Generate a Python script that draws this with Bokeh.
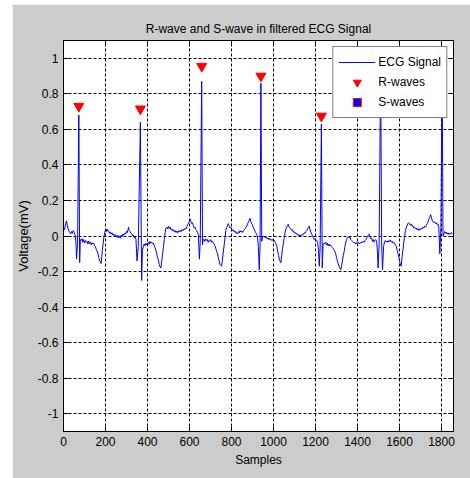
import numpy as np
from bokeh.plotting import figure
from bokeh.models import Range1d, FixedTicker, LinearAxis, Legend
from bokeh.embed import file_html
from bokeh.resources import INLINE

# ---------------- data ----------------
ecg_samples = [
    0, 5, 10, 14, 18, 22, 26, 30, 34, 38, 42, 46,
    50, 54, 57, 60, 62, 67, 73, 77, 80, 84, 88, 92,
    96, 100, 104, 108, 112, 116, 120, 124, 128, 132, 136, 140,
    144, 148, 152, 156, 160, 164, 168, 172, 176, 179, 182, 185,
    188, 192, 196, 199, 203, 207, 211, 215, 219, 223, 227, 231,
    235, 239, 243, 247, 251, 255, 259, 263, 267, 271, 275, 279,
    283, 287, 291, 295, 299, 303, 307, 310, 313, 317, 321, 325,
    329, 333, 337, 341, 345, 350, 356, 366, 372, 376, 380, 384,
    388, 392, 396, 400, 404, 408, 412, 416, 420, 424, 428, 432,
    436, 440, 444, 448, 452, 456, 460, 464, 468, 472, 476, 480,
    484, 488, 492, 496, 500, 504, 508, 512, 516, 520, 524, 528,
    532, 536, 540, 544, 548, 552, 556, 560, 564, 568, 572, 576,
    580, 584, 588, 592, 596, 600, 604, 607, 610, 614, 618, 622,
    626, 630, 634, 638, 642, 647, 651, 658, 662, 665, 669, 673,
    677, 681, 685, 689, 693, 697, 701, 705, 709, 713, 717, 721,
    725, 729, 733, 737, 741, 745, 749, 753, 757, 761, 765, 769,
    773, 777, 781, 785, 789, 793, 797, 801, 805, 809, 813, 817,
    821, 825, 829, 833, 837, 841, 845, 849, 853, 857, 861, 865,
    869, 873, 877, 881, 885, 888, 891, 895, 899, 903, 907, 911,
    915, 919, 923, 928, 932, 936, 940, 944, 948, 952, 956, 960,
    964, 968, 972, 976, 980, 984, 988, 992, 996, 1000, 1004, 1008,
    1012, 1016, 1020, 1024, 1028, 1032, 1035, 1039, 1043, 1047, 1051, 1055,
    1059, 1063, 1067, 1070, 1074, 1078, 1082, 1086, 1090, 1094, 1098, 1102,
    1106, 1110, 1114, 1118, 1122, 1126, 1130, 1134, 1138, 1142, 1146, 1150,
    1154, 1158, 1162, 1166, 1170, 1174, 1178, 1182, 1186, 1190, 1194, 1198,
    1202, 1206, 1210, 1214, 1218, 1222, 1228, 1232, 1236, 1240, 1244, 1248,
    1252, 1256, 1260, 1264, 1268, 1272, 1276, 1280, 1284, 1288, 1292, 1296,
    1300, 1304, 1308, 1312, 1316, 1320, 1324, 1328, 1332, 1336, 1340, 1344,
    1348, 1352, 1356, 1360, 1364, 1368, 1372, 1376, 1380, 1384, 1388, 1392,
    1396, 1400, 1404, 1408, 1412, 1416, 1420, 1424, 1428, 1432, 1436, 1440,
    1444, 1448, 1452, 1455, 1459, 1463, 1467, 1471, 1475, 1479, 1483, 1487,
    1491, 1495, 1498, 1503, 1510, 1515, 1519, 1524, 1529, 1533, 1537, 1541,
    1545, 1549, 1553, 1557, 1561, 1565, 1569, 1573, 1577, 1581, 1585, 1589,
    1593, 1597, 1601, 1605, 1608, 1612, 1616, 1620, 1624, 1628, 1632, 1636,
    1640, 1644, 1648, 1652, 1656, 1660, 1664, 1668, 1672, 1676, 1680, 1684,
    1688, 1692, 1696, 1700, 1704, 1708, 1712, 1716, 1720, 1724, 1728, 1732,
    1736, 1740, 1744, 1748, 1751, 1755, 1759, 1763, 1767, 1771, 1775, 1779,
    1783, 1787, 1792, 1797, 1803, 1807, 1811, 1815, 1819, 1823, 1827, 1831,
    1835, 1839, 1843, 1847, 1851,
]
ecg_mv = [
    0.047, 0.035, 0.07, 0.085, 0.06, 0.04, 0.028, 0.02, 0.012, 0.025, 0.015, 0.03,
    0.022, 0.008, 0.0, -0.06, -0.13, -0.04, 0.68, -0.15, -0.02, -0.025, -0.015, -0.035,
    -0.02, -0.04, -0.025, -0.035, -0.03, -0.045, -0.028, -0.042, -0.035, -0.05, -0.038, -0.045,
    -0.04, -0.055, -0.06, -0.075, -0.085, -0.1, -0.12, -0.14, -0.145, -0.155, -0.12, -0.08,
    -0.05, -0.01, 0.02, 0.03, 0.025, 0.04, 0.028, 0.03, 0.015, 0.022, 0.01, 0.018,
    0.005, 0.012, -0.002, 0.008, 0.0, -0.008, 0.004, -0.01, 0.0, -0.012, 0.005, -0.004,
    0.012, 0.004, 0.015, 0.01, 0.025, 0.018, 0.035, 0.05, 0.03, 0.025, 0.015, 0.012,
    0.0, 0.005, -0.01, -0.005, -0.02, -0.14, -0.06, 0.64, -0.25, -0.08, -0.06, -0.045,
    -0.055, -0.04, -0.05, -0.042, -0.035, -0.048, -0.03, -0.04, -0.035, -0.045, -0.04, -0.055,
    -0.066, -0.08, -0.1, -0.12, -0.14, -0.16, -0.175, -0.18, -0.14, -0.1, -0.06, -0.02,
    0.02, 0.045, 0.05, 0.04, 0.055, 0.042, 0.05, 0.035, 0.04, 0.028, 0.035, 0.022,
    0.03, 0.02, 0.028, 0.018, 0.03, 0.022, 0.032, 0.025, 0.035, 0.028, 0.04, 0.035,
    0.045, 0.04, 0.055, 0.065, 0.075, 0.085, 0.095, 0.08, 0.07, 0.075, 0.06, 0.045,
    0.05, 0.035, 0.03, 0.02, 0.01, -0.13, -0.03, 0.87, -0.05, -0.02, -0.02, -0.03,
    -0.015, -0.025, -0.02, -0.035, -0.025, -0.03, -0.02, -0.035, -0.03, -0.04, -0.045, -0.055,
    -0.07, -0.085, -0.1, -0.12, -0.14, -0.16, -0.165, -0.17, -0.13, -0.09, -0.05, -0.01,
    0.03, 0.047, 0.06, 0.07, 0.055, 0.045, 0.05, 0.038, 0.03, 0.035, 0.022, 0.028,
    0.015, 0.019, 0.012, 0.025, 0.018, 0.03, 0.022, 0.028, 0.02, 0.03, 0.035, 0.042,
    0.05, 0.056, 0.07, 0.08, 0.09, 0.1, 0.085, 0.07, 0.066, 0.05, 0.04, 0.028,
    0.02, 0.01, 0.0, -0.06, -0.19, -0.05, 0.86, -0.03, 0.0, -0.005, 0.0, -0.01,
    -0.005, -0.015, -0.01, -0.02, -0.012, -0.022, -0.018, -0.025, -0.02, -0.03, -0.025, -0.035,
    -0.045, -0.06, -0.085, -0.11, -0.13, -0.145, -0.15, -0.11, -0.07, -0.04, -0.01, 0.02,
    0.04, 0.05, 0.06, 0.066, 0.05, 0.045, 0.04, 0.032, 0.035, 0.022, 0.025, 0.015,
    0.018, 0.01, 0.012, 0.002, 0.008, 0.0, 0.005, 0.0, 0.01, 0.008, 0.018, 0.015,
    0.025, 0.03, 0.04, 0.048, 0.056, 0.035, 0.02, 0.01, 0.0, -0.01, -0.02, -0.015,
    -0.03, -0.025, -0.03, -0.08, -0.17, -0.06, 0.63, -0.18, -0.05, -0.04, -0.045, -0.035,
    -0.05, -0.04, -0.055, -0.045, -0.056, -0.05, -0.06, -0.065, -0.07, -0.08, -0.085, -0.1,
    -0.12, -0.14, -0.155, -0.17, -0.18, -0.19, -0.17, -0.14, -0.11, -0.09, -0.06, -0.035,
    -0.02, -0.01, -0.005, -0.01, -0.005, -0.02, -0.025, -0.03, -0.035, -0.04, -0.035, -0.045,
    -0.038, -0.042, -0.035, -0.045, -0.038, -0.04, -0.032, -0.038, -0.03, -0.035, -0.025, -0.02,
    -0.01, 0.0, 0.005, 0.01, -0.005, -0.015, -0.01, -0.03, -0.02, -0.035, -0.025, -0.02,
    -0.03, -0.09, -0.18, -0.05, 0.95, -0.05, -0.19, -0.06, -0.03, -0.025, -0.035, -0.028,
    -0.035, -0.025, -0.03, -0.022, -0.035, -0.03, -0.04, -0.035, -0.045, -0.05, -0.06, -0.08,
    -0.1, -0.12, -0.145, -0.165, -0.17, -0.12, -0.08, -0.04, 0.0, 0.03, 0.047, 0.06,
    0.07, 0.075, 0.065, 0.06, 0.068, 0.055, 0.058, 0.045, 0.05, 0.04, 0.045, 0.035,
    0.042, 0.032, 0.04, 0.035, 0.045, 0.04, 0.05, 0.045, 0.055, 0.05, 0.06, 0.07,
    0.08, 0.095, 0.105, 0.12, 0.11, 0.09, 0.08, 0.075, 0.08, 0.07, 0.075, 0.065,
    0.068, 0.05, -0.1, 0.05, 0.93, 0.0, 0.01, 0.025, 0.015, 0.022, 0.01, 0.018,
    0.008, 0.015, 0.01, 0.02, 0.013,
]

r_wave_samples = [73, 366, 658, 940, 1228, 1510, 1803]
r_wave_mv = [0.73, 0.715, 0.955, 0.90, 0.675, 1.0, 0.99]

# S-wave series is listed in the legend but no S-wave point is visible in the plot
s_wave_samples = np.array([np.nan])
s_wave_mv = np.array([np.nan])

x_ticks = [0, 200, 400, 600, 800, 1000, 1200, 1400, 1600, 1800]
x_tick_labels = ["0", "200", "400", "600", "800", "1000", "1200", "1400", "1600", "1800"]
y_ticks = [-1, -0.8, -0.6, -0.4, -0.2, 0, 0.2, 0.4, 0.6, 0.8, 1]
y_tick_labels = ["-1", "-0.8", "-0.6", "-0.4", "-0.2", "0", "0.2", "0.4", "0.6", "0.8", "1"]

title_text = "R-wave and S-wave in filtered ECG Signal"
x_label = "Samples"
y_label = "Voltage(mV)"

# ---------------- figure ----------------
FONT = "Liberation Sans"
GREY = "#cccccc"

p = figure(width=458, height=474, output_backend="svg", toolbar_location=None,
           x_range=Range1d(0, 1857), y_range=Range1d(-1.1, 1.1),
           min_border_left=51, min_border_right=17, min_border_top=36, min_border_bottom=47,
           background_fill_color="white", border_fill_color=GREY,
           outline_line_color="black", outline_line_width=1)
p.margin = (4, 0, 0, 12)

p.title.text = title_text
p.title.align = "center"
p.title.text_font = FONT
p.title.text_font_size = "12px"
p.title.text_font_style = "normal"
p.title.text_color = "black"

xt = FixedTicker(ticks=x_ticks)
yt = FixedTicker(ticks=y_ticks)

ecg = p.line(ecg_samples, ecg_mv, line_color="#0000ff", line_width=1)
rw = p.scatter(r_wave_samples, r_wave_mv, marker="inverted_triangle", size=10,
               fill_color="#ff0000", line_color="#ff0000")
sw = p.scatter(s_wave_samples, s_wave_mv, marker="square", size=7,
               fill_color="#0000ff", line_color="#ff0000")

for ax, ticks, labels in ((p.xaxis[0], x_ticks, x_tick_labels), (p.yaxis[0], y_ticks, y_tick_labels)):
    ax.ticker = FixedTicker(ticks=ticks)
    ax.major_label_overrides = {t: l for t, l in zip(ticks, labels)}
    ax.major_tick_in = 5
    ax.major_tick_out = 0
    ax.minor_tick_in = 0
    ax.minor_tick_out = 0
    ax.axis_line_color = "black"
    ax.major_tick_line_color = "black"
    ax.major_label_text_font = FONT
    ax.major_label_text_font_size = "12px"
    ax.major_label_text_color = "black"
    ax.major_label_standoff = 5
    ax.axis_label_text_font = FONT
    ax.axis_label_text_font_style = "normal"
    ax.axis_label_text_color = "black"

p.xaxis.axis_label = x_label
p.xaxis.axis_label_text_font_size = "12px"
p.xaxis.axis_label_standoff = 4
p.yaxis.axis_label = y_label
p.yaxis.axis_label_text_font_size = "13px"
p.yaxis.axis_label_standoff = 4

for side, ticks in (("above", x_ticks), ("right", y_ticks)):
    ax = LinearAxis(ticker=FixedTicker(ticks=ticks), major_tick_in=5, major_tick_out=0,
                    minor_tick_in=0, minor_tick_out=0,
                    major_label_overrides={t: "" for t in ticks}, major_label_standoff=0,
                    axis_line_color="black", major_tick_line_color="black")
    p.add_layout(ax, side)

p.xgrid.ticker = xt
p.ygrid.ticker = yt
p.grid.grid_line_color = "black"
p.grid.grid_line_alpha = 1
p.grid.grid_line_dash = "3 2"
p.grid.grid_line_width = 1

legend = Legend(items=[("ECG Signal", [ecg]), ("R-waves", [rw]), ("S-waves", [sw])],
                location="top_right", margin=6, padding=5, spacing=0,
                glyph_width=37, glyph_height=20, label_height=20, label_standoff=3,
                label_text_font=FONT, label_text_font_size="12px", label_text_color="black",
                border_line_color="black", border_line_width=1,
                background_fill_color="white", background_fill_alpha=1)
p.add_layout(legend)

open("out.html", "w").write(file_html(p, INLINE))
